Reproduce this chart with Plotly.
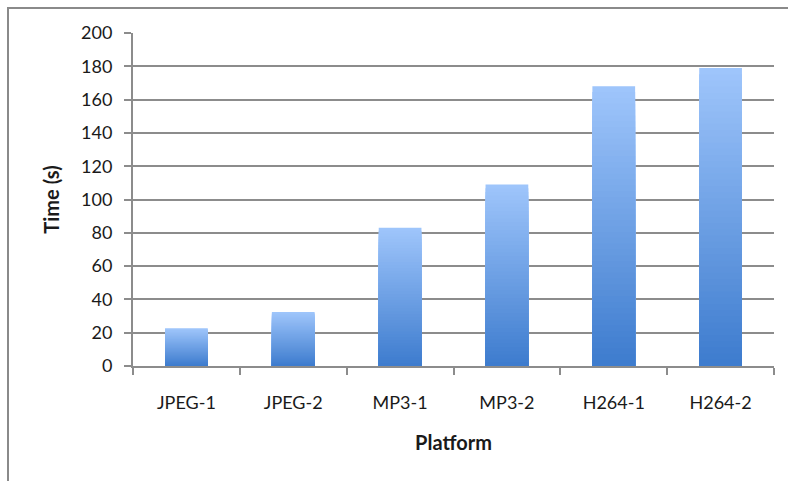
import plotly.graph_objects as go

# Run time per platform benchmark
platforms = ["JPEG-1", "JPEG-2", "MP3-1", "MP3-2", "H264-1", "H264-2"]
times = [22.6, 32.4, 83, 109, 168, 179]

# Vertical gradient for the bars: light at the top, darker at the base
top_rgb = (158, 197, 251)
bottom_rgb = (62, 124, 206)
layers = 48

fig = go.Figure()
for k in range(layers):
    frac = k / layers
    t = k / (layers - 1)
    rgb = tuple(round(a + (b - a) * t) for a, b in zip(top_rgb, bottom_rgb))
    fig.add_trace(go.Bar(
        x=platforms,
        y=[v * (1 - frac) for v in times],
        marker=dict(color="rgb(%d,%d,%d)" % rgb, line=dict(width=0)),
        width=0.4,
        hoverinfo="skip" if k else "x+y",
        showlegend=False,
    ))

font_family = "Lato, 'Liberation Sans', sans-serif"

fig.update_layout(
    barmode="overlay",
    width=788,
    height=481,
    margin=dict(l=133, r=14, t=33, b=115),
    paper_bgcolor="white",
    plot_bgcolor="white",
    font=dict(family=font_family, size=18, color="#1a1a1a"),
    xaxis=dict(
        title=dict(text="<b>Platform</b>", font=dict(size=20), standoff=24),
        showline=True, linecolor="#8c8c8c", linewidth=2,
        ticks="outside", ticklen=7, tickwidth=1.5, tickcolor="#8c8c8c",
        tickson="boundaries",
        ticklabelstandoff=19,
        showgrid=False,
    ),
    yaxis=dict(
        title=dict(text="<b>Time (s)</b>", font=dict(size=20), standoff=16),
        range=[0, 200],
        dtick=20,
        showline=True, linecolor="#8c8c8c", linewidth=2,
        ticks="outside", ticklen=7, tickwidth=1.5, tickcolor="#8c8c8c",
        showgrid=True, gridcolor="#8c8c8c", gridwidth=1.5,
        zeroline=False,
        ticklabelstandoff=8,
    ),
    shapes=[dict(
        type="rect", xref="paper", yref="paper",
        x0=-0.195, x1=1.2, y0=-0.6, y1=1.075,
        line=dict(color="#8a8a8a", width=2),
        fillcolor="rgba(0,0,0,0)",
        layer="below",
    )],
)

fig.write_html("out.html")
